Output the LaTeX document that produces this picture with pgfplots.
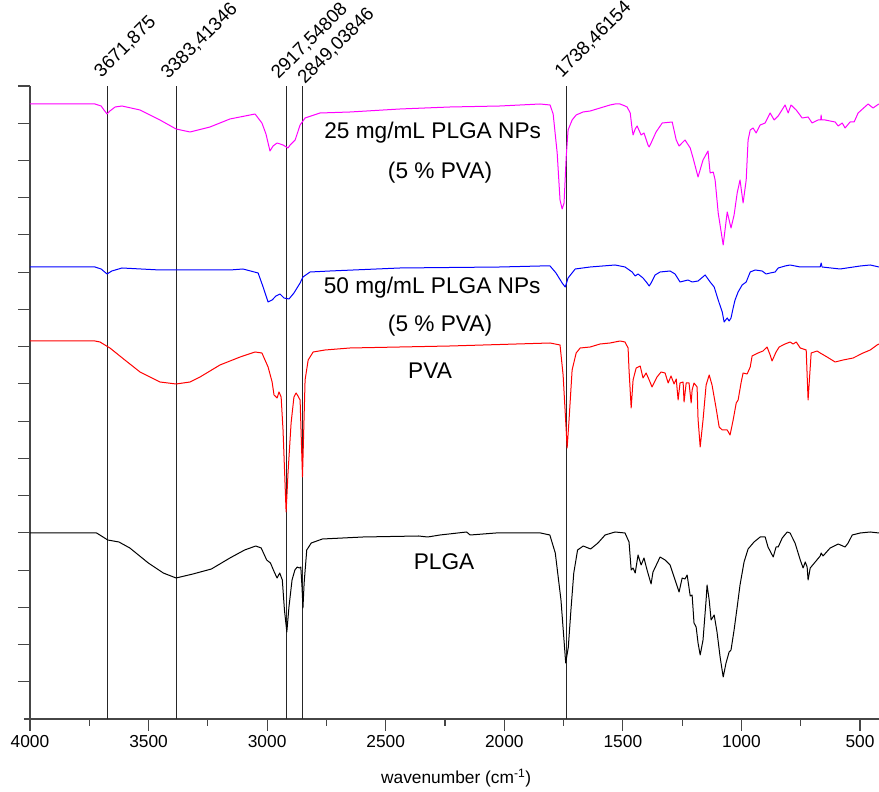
\documentclass[border=0pt]{standalone}
\usepackage{fontspec}
\setmainfont{Liberation Sans}
\usepackage{pgfplots}
\pgfplotsset{compat=1.18}

\definecolor{magentaline}{RGB}{255,0,255}
\definecolor{axisgray}{RGB}{70,70,70}

\begin{document}
\begin{tikzpicture}
% picture frame: 879 x 792 px at 0.75pt per px, axis corner at (30,719) px
\path[use as bounding box] (-22.5pt,-54.75pt) rectangle (636.75pt,539.25pt);
\begin{axis}[
    scale only axis,
    width=636.75pt,
    height=474.75pt,
    x dir=reverse,
    xmin=420, xmax=4000,
    ymin=0, ymax=633,
    axis x line*=bottom,
    axis y line*=left,
    axis line style={axisgray, line width=0.8pt},
    xtick={500,1000,...,4000},
    minor xtick={750,1250,...,3750},
    ytick={37.2353,74.4706,...,633.1},
    yticklabels={},
    extra y ticks={0},
    extra y tick labels={},
    extra y tick style={major tick length=4.5pt},
    tick align=outside,
    major tick length=9pt,
    minor tick length=5pt,
    tick style={axisgray, line width=0.8pt},
    ticklabel style={font=\fontsize{13}{15}\selectfont},
    /pgf/number format/assume math mode=true,
    /pgf/number format/set thousands separator={},
    clip=false,
    every axis plot/.append style={line width=0.75pt, line join=round},
]

% peak marker lines
\foreach \p in {3671.875,3383.41346,2917.54808,2849.03846,1738.46154}{
  \edef\tmp{\noexpand\draw[black!85, line width=0.75pt] (axis cs:\p,0) -- (axis cs:\p,633);}
  \tmp
}

% 25 mg/mL PLGA NPs (5 % PVA)
\addplot[magentaline] table {
4000 615
3873 615
3726 615
3700 613
3688 609
3675 605
3663 608
3641 612
3612 613
3536 609
3452 599
3384 590
3325 587
3241 592
3157 600
3072 604
3051 605
3022 596
3005 585
2988 568
2975 573
2958 576
2933 574
2912 571
2903 574
2882 579
2861 594
2840 601
2777 606
2650 607
2440 610
2229 612
2018 613
1849 615
1807 614
1794 605
1777 566
1765 519
1756 510
1748 516
1739 562
1731 589
1714 599
1697 604
1668 607
1638 608
1596 611
1554 614
1533 615
1512 615
1491 613
1482 612
1469 606
1461 590
1457 584
1448 590
1440 593
1423 584
1411 586
1394 574
1389 572
1381 576
1360 587
1334 596
1292 597
1275 579
1263 573
1238 579
1216 571
1204 561
1183 542
1162 559
1141 568
1132 546
1119 547
1111 539
1098 506
1077 474
1060 507
1044 491
1031 504
1018 526
1006 539
993 516
980 539
972 579
963 589
951 591
938 586
921 594
900 596
879 606
862 599
845 603
816 614
803 606
791 614
769 609
744 601
719 602
702 596
677 599
666 599
664 604
662 599
647 599
605 597
592 593
575 596
563 591
542 597
525 597
508 606
466 615
445 611
427 614
420 615
};

% 50 mg/mL PLGA NPs (5 % PVA)
\addplot[blue] table {
4000 452
3726 452
3700 450
3675 445
3655 448
3612 451
3452 449
3157 449
3102 450
3038 446
3017 432
2996 417
2979 419
2963 423
2946 425
2929 421
2908 420
2887 426
2861 436
2849 442
2819 447
2735 448
2440 451
2018 452
1849 453
1807 453
1782 446
1756 436
1743 432
1731 441
1701 450
1638 452
1533 454
1491 452
1461 447
1448 443
1436 445
1415 441
1398 436
1389 433
1381 436
1364 444
1343 447
1301 448
1280 445
1259 437
1242 438
1225 439
1208 437
1183 438
1153 444
1132 437
1115 432
1098 419
1081 407
1073 397
1060 401
1052 398
1044 401
1035 411
1027 419
1014 427
997 434
980 437
963 447
942 449
913 448
896 445
879 446
858 447
845 451
816 453
795 454
752 452
668 452
664 456
660 452
584 450
499 453
457 454
420 452
};

% PVA
\addplot[red] table {
4000 378
3726 378
3705 377
3663 371
3600 359
3536 347
3452 337
3384 335
3325 337
3283 342
3199 354
3114 362
3051 367
3022 366
2996 352
2979 337
2971 324
2958 321
2950 327
2941 322
2933 289
2920 207
2912 246
2899 296
2887 322
2878 326
2870 323
2861 319
2851 242
2840 339
2827 359
2806 367
2756 369
2651 371
2229 373
1807 376
1765 374
1752 344
1739 289
1735 271
1727 299
1714 349
1697 366
1680 371
1638 372
1596 375
1554 376
1512 378
1491 377
1478 371
1474 349
1465 311
1457 339
1444 351
1427 353
1415 341
1402 346
1389 339
1377 332
1356 342
1339 347
1322 346
1309 336
1297 343
1284 335
1275 340
1267 319
1259 336
1246 337
1242 317
1233 336
1221 336
1212 316
1208 329
1200 336
1187 332
1183 300
1174 272
1162 299
1149 334
1136 344
1124 334
1107 311
1094 292
1081 289
1060 289
1048 284
1035 299
1022 316
1014 319
1001 337
993 346
976 345
963 352
955 363
930 366
909 368
892 372
879 364
871 358
854 367
841 372
816 375
795 377
782 375
769 377
752 371
727 369
719 319
706 366
681 368
668 366
639 362
605 357
571 359
529 361
487 366
457 369
428 374
420 375
};

% PLGA
\addplot[black] table {
4000 186
3719 186
3672 179
3625 177
3579 171
3501 156
3438 146
3384 141
3313 145
3235 150
3157 161
3095 169
3048 173
3025 171
3002 159
2986 156
2970 147
2958 141
2947 146
2936 139
2927 109
2917 87
2908 112
2895 139
2883 149
2873 152
2864 151
2858 152
2853 132
2849 111
2844 136
2833 169
2814 176
2767 180
2596 182
2362 183
2323 182
2271 184
2159 187
2144 184
2035 186
1847 186
1808 184
1785 166
1761 119
1741 56
1730 72
1719 109
1707 146
1691 169
1667 173
1636 170
1605 176
1575 184
1533 187
1491 186
1474 177
1465 149
1457 151
1448 146
1436 164
1423 154
1411 161
1398 149
1381 135
1373 147
1343 162
1322 159
1301 154
1284 142
1263 127
1250 141
1238 140
1229 144
1216 123
1208 124
1200 96
1191 92
1183 76
1174 64
1162 79
1149 119
1145 134
1136 119
1128 99
1115 104
1103 87
1090 62
1077 42
1065 56
1052 67
1044 69
1031 89
1018 112
1006 134
989 157
972 170
947 177
921 182
900 182
888 172
866 162
854 172
845 172
828 181
807 187
795 186
774 176
752 159
740 151
731 157
723 152
719 139
710 151
689 157
668 163
664 166
656 163
626 171
592 175
563 172
550 176
533 184
499 186
457 187
420 186
};

% peak labels (shift of the label start from the top of its line, page frame)
\foreach \p/\t/\dx/\dy in {3671.875/{3671,875}/-3.3pt/2.9pt,3383.41346/{3383,41346}/-4.6pt/1.7pt,2917.54808/{2917,54808}/-4.8pt/1.7pt,2849.03846/{2849,03846}/2.9pt/-2.1pt,1738.46154/{1738,46154}/-1.8pt/2.9pt}{
  \edef\tmp{\noexpand\node[xshift=\dx, yshift=\dy, rotate=45, anchor=south west, inner sep=1pt, font=\noexpand\fontsize{14}{16}\noexpand\selectfont] at (axis cs:\p,633) {\t};}
  \tmp
}

% curve labels
\node[font=\fontsize{17}{20}\selectfont] at (axis cs:2302,586) {25 mg/mL PLGA NPs};
\node[font=\fontsize{17}{20}\selectfont] at (axis cs:2271,546) {(5 \% PVA)};
\node[font=\fontsize{17}{20}\selectfont] at (axis cs:2304,431) {50 mg/mL PLGA NPs};
\node[font=\fontsize{17}{20}\selectfont] at (axis cs:2271,393) {(5 \% PVA)};
\node[font=\fontsize{17}{20}\selectfont] at (axis cs:2313,348) {PVA};
\node[font=\fontsize{17}{20}\selectfont] at (axis cs:2254,157) {PLGA};

% axis title
\node[font=\fontsize{13}{15}\selectfont] at (axis description cs:0.502,-0.0932) {wavenumber (cm\textsuperscript{-1})};
\end{axis}
\end{tikzpicture}
\end{document}
